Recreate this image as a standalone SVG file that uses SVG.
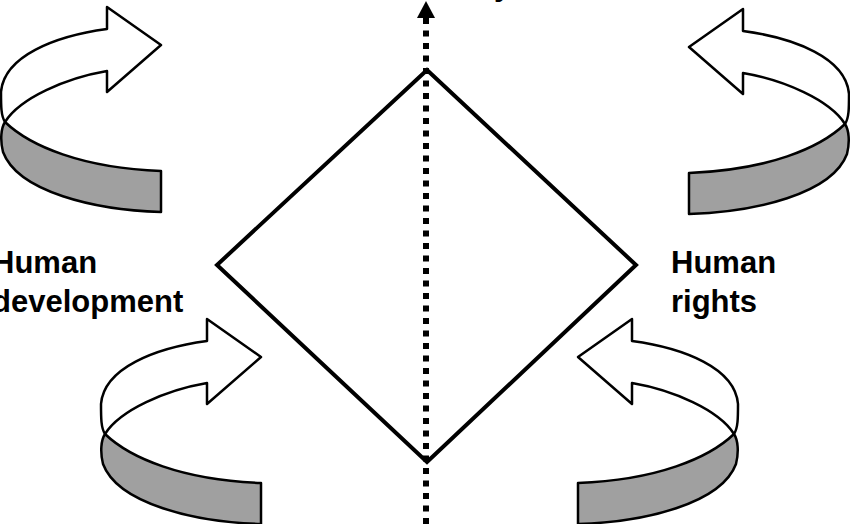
<svg xmlns="http://www.w3.org/2000/svg" width="850" height="524" viewBox="0 0 850 524">
<style>
.band{stroke:#000;stroke-width:2.5;stroke-linejoin:round}
.front{fill:#fff}
.back{fill:#a0a0a0}
.lbl{font-family:"Liberation Sans",Arial,sans-serif;font-weight:bold;font-size:31px;fill:#000}
</style>
<defs>
<g id="turn">
<path class="band back" d="M5,122 C30,146 82,168 161,171 L161,212 C95,210 18,192 3,152 C0,140 1,128 5,122 Z"/>
<path class="band front" d="M107,7 L161,45 L107,92 L107,71 C66,78 20,98 5,122 C1,116 1,106 1,92 C4,56 55,36 107,29 Z"/>
</g>
</defs>
<rect width="850" height="524" fill="#fff"/>
<g id="turn-top-left"><use href="#turn"/></g>
<g id="turn-bottom-left"><use href="#turn" transform="translate(100,312)"/></g>
<g id="turn-top-right"><use href="#turn" transform="translate(850,2) scale(-1,1)"/></g>
<g id="turn-bottom-right"><use href="#turn" transform="translate(739,312) scale(-1,1)"/></g>
<g id="diamond"><polygon points="427,70 636,265 427,462 217,265" fill="none" stroke="#000" stroke-width="4"/></g>
<g id="connectors">
<line x1="426" y1="524" x2="426" y2="18" stroke="#000" stroke-width="6" stroke-dasharray="6,6.5"/>
<polygon points="426,1 435,18 417,18" fill="#000"/>
</g>
<g id="label-left">
<text class="lbl" x="-8" y="273">Human</text>
<text class="lbl" x="-8" y="312">development</text>
</g>
<g id="label-right">
<text class="lbl" x="671" y="273">Human</text>
<text class="lbl" x="671" y="312">rights</text>
</g>
<g id="label-top"><text class="lbl" x="494" y="-5">y</text></g>
</svg>
